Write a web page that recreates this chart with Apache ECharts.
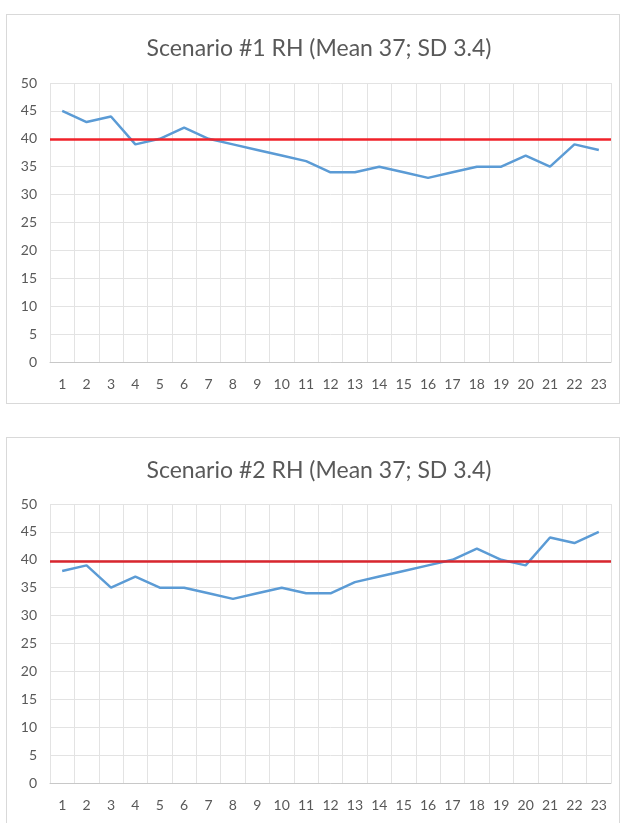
<!DOCTYPE html>
<html>
<head>
<meta charset="utf-8">
<script src="https://cdn.jsdelivr.net/npm/echarts@6/dist/echarts.min.js"></script>
<style>
  html, body { margin: 0; padding: 0; background: #fff; }
  body { width: 627px; height: 823px; position: relative; overflow: hidden; }
  .panel { position: absolute; left: 6px; width: 614px; border: 1px solid #d9d9d9; box-sizing: border-box; }
  #chart1 { top: 14px; height: 390px; }
  #chart2 { top: 437px; height: 400px; }
</style>
</head>
<body>
<div id="chart1" class="panel"></div>
<div id="chart2" class="panel"></div>
<script>
const hours = ['1', '2', '3', '4', '5', '6', '7', '8', '9', '10', '11', '12', '13', '14', '15', '16', '17', '18', '19', '20', '21', '22', '23']
const scenario1 = [45, 43, 44, 39, 40, 42, 40, 39, 38, 37, 36, 34, 34, 35, 34, 33, 34, 35, 35, 37, 35, 39, 38]
const scenario2 = [38, 39, 35, 37, 35, 35, 34, 33, 34, 35, 34, 34, 36, 37, 38, 39, 40, 42, 40, 39, 44, 43, 45]
const titles = ['Scenario #1 RH (Mean 37; SD 3.4)', 'Scenario #2 RH (Mean 37; SD 3.4)']
const refLines = [40, 39.7]
const yTicks = [0, 5, 10, 15, 20, 25, 30, 35, 40, 45, 50]

const FONT = 'Lato, "Open Sans", sans-serif'

function buildOption(title, values, refValue, layout) {
  return {
    animation: false,
    title: {
      text: title,
      left: layout.titleX,
      top: layout.titleTop,
      textAlign: 'center',
      textStyle: { color: '#595959', fontSize: 23, fontWeight: 'normal', fontFamily: FONT },
    },
    grid: { left: layout.left, right: layout.right, top: layout.top, bottom: layout.bottom },
    xAxis: {
      type: 'category',
      data: hours,
      boundaryGap: true,
      axisTick: { show: false },
      axisLine: { lineStyle: { color: '#c8c8c8', width: 1 } },
      axisLabel: { color: '#595959', fontSize: 14, fontFamily: FONT, margin: 15, interval: 0 },
      splitLine: { show: true, lineStyle: { color: '#e3e3e3', width: 1 } },
    },
    yAxis: {
      type: 'value',
      min: yTicks[0],
      max: yTicks[yTicks.length - 1],
      interval: 5,
      axisTick: { show: false },
      axisLine: { show: false },
      axisLabel: { color: '#595959', fontSize: 14, fontFamily: FONT, margin: 13 },
      splitLine: { show: true, lineStyle: { color: '#e3e3e3', width: 1 } },
    },
    series: [
      {
        type: 'line',
        data: values,
        symbol: 'none',
        lineStyle: { color: '#5b9bd5', width: 2.5 },
        markLine: {
          silent: true,
          symbol: 'none',
          label: { show: false },
          lineStyle: { color: layout.refColor, width: 2.5, type: 'solid' },
          data: [{ yAxis: refValue }],
        },
      },
    ],
  }
}

const layouts = [
  { titleX: 307, titleTop: 17, left: 43, right: 8, top: 68, bottom: 41, refColor: '#f0222a' },
  { titleX: 307, titleTop: 16, left: 43, right: 8, top: 66, bottom: 53, refColor: '#d9262e' },
]

;['chart1', 'chart2'].forEach((id, i) => {
  const chart = echarts.init(document.getElementById(id))
  chart.setOption(buildOption(titles[i], i === 0 ? scenario1 : scenario2, refLines[i], layouts[i]))
})
</script>
</body>
</html>
